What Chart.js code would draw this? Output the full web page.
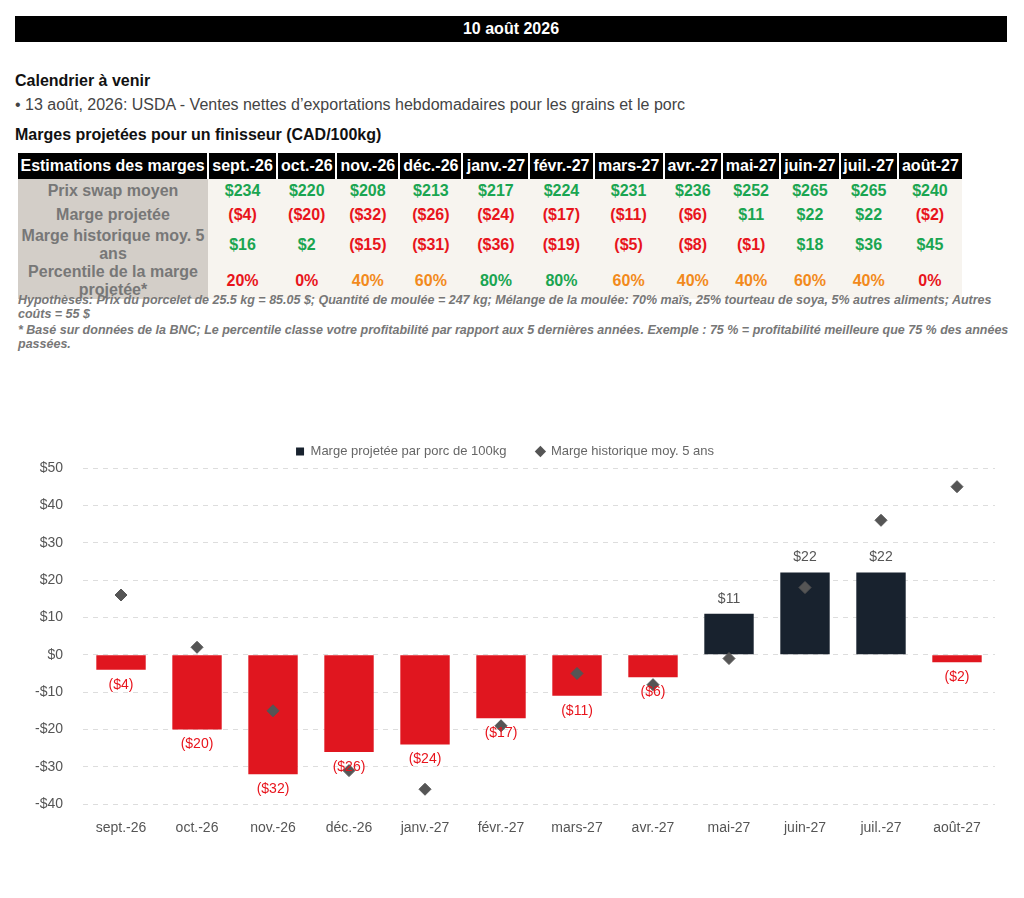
<!DOCTYPE html>
<html><head><meta charset="utf-8">
<script src="https://cdn.jsdelivr.net/npm/chart.js@4"></script>
<style>
body{margin:0;background:#fff;font-family:"Liberation Sans",Arial,sans-serif;width:1024px;height:898px;position:relative;overflow:hidden}
.top{position:absolute;left:15px;top:16px;width:992px;height:26px;background:#000;color:#fff;font-weight:bold;font-size:16px;text-align:center;line-height:26px}
.h{position:absolute;left:15px;font-weight:bold;font-size:16px;color:#111}
.t{position:absolute;left:15px;top:96px;font-size:16px;color:#444}
table{position:absolute;left:18px;top:153px;width:944px;border-collapse:collapse;font-family:"Liberation Sans Narrow","Liberation Sans",sans-serif;font-weight:bold;font-size:16px;text-align:center}
th{background:#000;color:#fff;height:26px;border-left:2px solid #fff;padding:0}
td{height:24px;padding:0;background:#f7f4ef}
td.l{background:#d3cec8;color:#777;width:190px}
.g{color:#1aa551}.r{color:#e8141c}.o{color:#f28a1c}
.n{position:absolute;left:18px;font-family:"Liberation Sans Narrow",sans-serif;font-style:italic;font-weight:bold;font-size:12.5px;color:#777}
#wrap{position:absolute;left:15px;top:415px;width:990px;height:430px}
</style></head><body>
<div class="top">10 août 2026</div>
<div class="h" style="top:72px">Calendrier à venir</div>
<div class="t">• 13 août, 2026: USDA - Ventes nettes d’exportations hebdomadaires pour les grains et le porc</div>
<div class="h" style="top:126px">Marges projetées pour un finisseur (CAD/100kg)</div>
<table id="tbl"></table>
<div class="n" style="top:293px">Hypothèses: Prix du porcelet de 25.5 kg = 85.05 $; Quantité de moulée = 247 kg; Mélange de la moulée: 70% maïs, 25% tourteau de soya, 5% autres aliments; Autres coûts = 55 $</div>
<div class="n" style="top:323px">* Basé sur données de la BNC; Le percentile classe votre profitabilité par rapport aux 5 dernières années. Exemple : 75 % = profitabilité meilleure que 75 % des années passées.</div>
<div id="wrap"><canvas id="c"></canvas></div>
<script>
const months = ['sept.-26','oct.-26','nov.-26','déc.-26','janv.-27','févr.-27','mars-27','avr.-27','mai-27','juin-27','juil.-27','août-27'];
const swapPrice = [234,220,208,213,217,224,231,236,252,265,265,240];
const projMargin = [-4,-20,-32,-26,-24,-17,-11,-6,11,22,22,-2];
const histMargin = [16,2,-15,-31,-36,-19,-5,-8,-1,18,36,45];
const percentile = [20,0,40,60,80,80,60,40,40,60,40,0];
const yTicks = [-40,-30,-20,-10,0,10,20,30,40,50];

const money = v => v < 0 ? '($' + (-v) + ')' : '$' + v;
const pctCls = p => p <= 20 ? 'r' : p >= 80 ? 'g' : 'o';
let h = '<tr><th style="border-left:none">Estimations des marges</th>' + months.map(m => '<th>' + m + '</th>').join('') + '</tr>';
h += '<tr><td class="l">Prix swap moyen</td>' + swapPrice.map(v => '<td class="g">' + money(v) + '</td>').join('') + '</tr>';
h += '<tr><td class="l">Marge projetée</td>' + projMargin.map(v => '<td class="' + (v < 0 ? 'r' : 'g') + '">' + money(v) + '</td>').join('') + '</tr>';
h += '<tr><td class="l">Marge historique moy. 5 ans</td>' + histMargin.map(v => '<td class="' + (v < 0 ? 'r' : 'g') + '">' + money(v) + '</td>').join('') + '</tr>';
h += '<tr><td class="l">Percentile de la marge projetée*</td>' + percentile.map(v => '<td class="' + pctCls(v) + '">' + v + '%</td>').join('') + '</tr>';
document.getElementById('tbl').innerHTML = h;

const barLabels = {
  id: 'barLabels',
  afterDatasetsDraw(chart) {
    const ctx = chart.ctx, meta = chart.getDatasetMeta(0);
    ctx.save();
    ctx.font = '14px "Liberation Sans Narrow", sans-serif';
    ctx.textAlign = 'center';
    meta.data.forEach((bar, i) => {
      const v = projMargin[i];
      if (v < 0) { ctx.fillStyle = '#e8141c'; ctx.textBaseline = 'top'; ctx.fillText(money(v), bar.x, bar.y + 8); }
      else { ctx.fillStyle = '#555'; ctx.textBaseline = 'bottom'; ctx.fillText(money(v), bar.x, bar.y - 8); }
    });
    ctx.restore();
  }
};

new Chart(document.getElementById('c'), {
  type: 'bar',
  data: {
    labels: months,
    datasets: [{
      label: 'Marge projetée par porc de 100kg',
      data: projMargin,
      backgroundColor: projMargin.map(v => v < 0 ? '#e0161f' : '#18222e'),
      barPercentage: 0.65, categoryPercentage: 1,
      pointStyle: 'rect', order: 2
    }, {
      type: 'scatter',
      label: 'Marge historique moy. 5 ans',
      data: histMargin,
      pointStyle: 'rectRot', pointRadius: 6, pointHoverRadius: 6,
      backgroundColor: '#555', borderColor: '#555', order: 1
    }]
  },
  options: {
    responsive: true, maintainAspectRatio: false, animation: false,
    layout: { padding: { left: 0, right: 10, top: 0, bottom: 0 } },
    plugins: {
      tooltip: { enabled: false },
      legend: {
        labels: {
          usePointStyle: true, boxWidth: 8, boxHeight: 8, padding: 30,
          color: '#666', font: { size: 13, family: '"Liberation Sans Narrow", sans-serif' },
          generateLabels: c => c.data.datasets.map((d, i) => ({
            text: d.label, fillStyle: i ? '#555' : '#18222e', strokeStyle: i ? '#555' : '#18222e',
            pointStyle: i ? 'rectRot' : 'rect', datasetIndex: i, lineWidth: 0, fontColor: '#666'
          }))
        }
      }
    },
    scales: {
      x: { type: 'category', offset: true, grid: { display: false }, border: { display: false },
           ticks: { color: '#555', font: { size: 14, family: '"Liberation Sans Narrow", sans-serif' }, padding: 8 } },
      y: { min: -40, max: 50, afterBuildTicks: a => { a.ticks = yTicks.map(v => ({ value: v })); },
           grid: { color: '#ddd', tickLength: 0 }, border: { display: false, dash: [5, 5] },
           ticks: { color: '#555', padding: 20, font: { size: 14, family: '"Liberation Sans Narrow", sans-serif' },
                    callback: v => (v < 0 ? '-$' + (-v) : '$' + v) } }
    }
  },
  plugins: [barLabels]
});
</script>
</body></html>
